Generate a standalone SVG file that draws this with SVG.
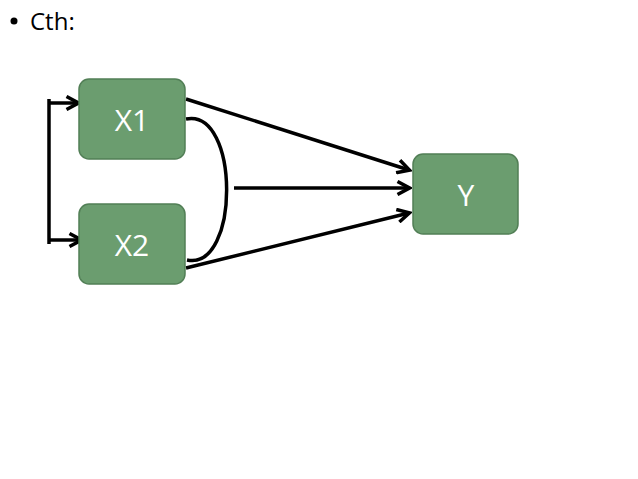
<svg xmlns="http://www.w3.org/2000/svg" width="638" height="479" viewBox="0 0 638 479">
<defs>
<style>
.node rect{fill:#6b9d6f;stroke:#527f56;stroke-width:1.5}
.node text{fill:#fff;font-family:"Open Sans","Liberation Sans",sans-serif;font-size:30px;text-anchor:middle}
.conn path,.conn line{stroke:#000;stroke-width:3.5;fill:none}
.t{font-family:"Open Sans","Liberation Sans",sans-serif;font-size:24px;fill:#000}
</style>
<marker id="ah" markerWidth="16" markerHeight="16" refX="13" refY="8" orient="auto" markerUnits="userSpaceOnUse" viewBox="0 0 16 16">
<path d="M1.5,1.5 L13.5,8 L1.5,14.5" fill="none" stroke="#000" stroke-width="3.5"/>
</marker>
</defs>
<rect width="638" height="479" fill="#fff"/>
<circle cx="14" cy="21" r="3.5" fill="#000"/>
<text class="t" x="30" y="30">Cth:</text>
<g class="conn">
<line x1="49" y1="99" x2="49" y2="244"/>
<line x1="49" y1="103" x2="78" y2="103" marker-end="url(#ah)"/>
<line x1="49" y1="240" x2="81" y2="240" marker-end="url(#ah)"/>
<line x1="186" y1="99" x2="409" y2="170" marker-end="url(#ah)"/>
<line x1="186" y1="268" x2="409" y2="213" marker-end="url(#ah)"/>
<line x1="234" y1="188" x2="409" y2="188" marker-end="url(#ah)"/>
<path d="M186,119 C240,108 240,271 187,260"/>
</g>
<g id="X1" class="node"><rect x="79" y="79" width="106" height="80" rx="10"/><text x="132" y="131">X1</text></g>
<g id="X2" class="node"><rect x="79" y="204" width="106" height="80" rx="10"/><text x="132" y="256">X2</text></g>
<g id="Y" class="node"><rect x="413" y="154" width="105" height="80" rx="10"/><text x="466" y="206">Y</text></g>
</svg>
